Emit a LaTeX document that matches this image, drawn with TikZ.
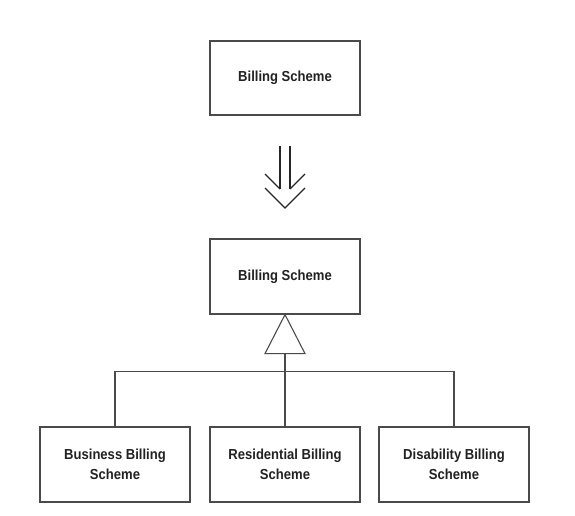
\documentclass[tikz,border=0pt]{standalone}
\usepackage{fontspec}
\setmainfont{Liberation Sans}[FakeStretch=0.9]
\usetikzlibrary{calc}
\definecolor{boxline}{HTML}{4A4A4A}
\definecolor{txt}{HTML}{222222}
\tikzset{
  x=1pt, y=-1pt,
  classbox/.style={draw=boxline, line width=1.2pt, fill=white, minimum width=150pt, minimum height=75pt,
    inner sep=0pt, align=center, text=txt, font=\fontsize{14.5}{19.5}\selectfont\bfseries},
  conn/.style={draw=boxline, line width=1.1pt},
  refine/.style={draw=black!85, line width=1.4pt, line cap=butt, line join=miter}
}
\begin{document}
\begin{tikzpicture}
\useasboundingbox (0,0) rectangle (575,516);
\node[classbox, minimum height=74pt] (top) at (285,78) {Billing Scheme};
\node[classbox] (mid) at (285,276.5) {Billing Scheme};
\node[classbox] (b1) at (115,464.5) {Business Billing\\Scheme};
\node[classbox] (b2) at (285,464.5) {Residential Billing\\Scheme};
\node[classbox] (b3) at (454,464.5) {Disability Billing\\Scheme};
% refinement double arrow
\draw[refine] (280,146) -- (280,189);
\draw[refine] (290,146) -- (290,189);
\draw[refine] (265,174) -- (280,189);
\draw[refine] (305,174) -- (290,189);
\draw[refine] (265,188) -- (285,208) -- (305,188);
% generalization triangle
\coordinate (tribase) at ($(mid.south)+(0,39)$);
\draw[conn, line join=miter] (mid.south) -- ($(tribase)+(-20,0)$) -- ($(tribase)+(20,0)$) -- cycle;
\coordinate (junction) at (285,371.5);
\draw[conn] (tribase) -- (b2.north);
\draw[conn] (b1.north) |- (junction) -| (b3.north);
\end{tikzpicture}
\end{document}
